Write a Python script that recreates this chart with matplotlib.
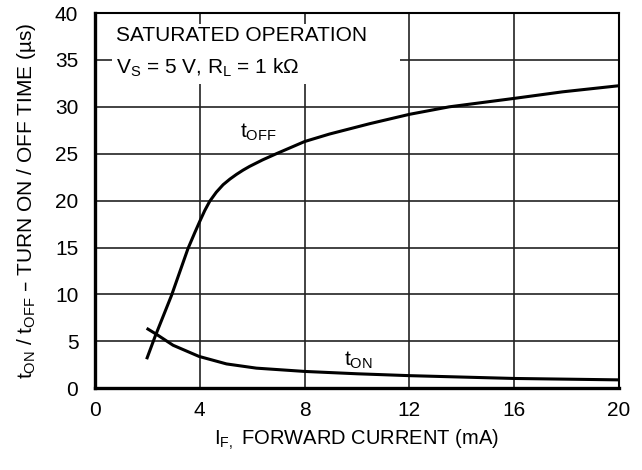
import matplotlib.pyplot as plt
from matplotlib.patches import Rectangle

plt.rcParams['font.family'] = ['Liberation Sans', 'DejaVu Sans']
plt.rcParams['mathtext.default'] = 'regular'

# t_OFF curve (mA, us)
i_off = [1.97, 2.29, 2.92, 3.55, 3.81, 4.0, 4.19, 4.38, 4.63, 4.89, 5.15, 5.4, 5.65, 5.9, 6.4,
         6.92, 8.0, 8.95, 10.48, 12.0, 13.52, 16.0, 17.85, 20.0]
t_off = [3.1, 5.5, 9.9, 14.9, 16.6, 17.8, 18.95, 19.94, 20.9, 21.7, 22.3, 22.8, 23.25, 23.65, 24.35,
         25.0, 26.3, 27.1, 28.2, 29.2, 30.0, 30.9, 31.6, 32.25]

# t_ON curve
i_on = [1.97, 2.35, 2.98, 3.97, 5.02, 6.16, 8.0, 10.0, 12.0, 16.0, 20.0]
t_on = [6.4, 5.75, 4.59, 3.4, 2.6, 2.15, 1.8, 1.55, 1.35, 1.05, 0.9]

xticks = [0, 4, 8, 12, 16, 20]
yticks = [0, 5, 10, 15, 20, 25, 30, 35, 40]

fs = 15

fig = plt.figure(figsize=(6.42, 4.70), dpi=100)
ax = fig.add_axes([0.148, 0.1738, 0.816, 0.7985])

ax.plot(i_off, t_off, color='black', lw=2.2, zorder=5, solid_capstyle='butt')
ax.plot(i_on, t_on, color='black', lw=2.2, zorder=5, solid_capstyle='butt')

ax.set_xlim(0, 20)
ax.set_ylim(0, 40)
ax.set_xticks(xticks)
ax.set_yticks(yticks)
ax.tick_params(length=0, labelsize=fs)
ax.tick_params(axis='y', pad=12)
ax.tick_params(axis='x', pad=9)
ax.grid(True, color='#222222', lw=1.2)
ax.set_axisbelow(True)
for s in ['left', 'bottom']:
    ax.spines[s].set_linewidth(2.4)
for s in ['top', 'right']:
    ax.spines[s].set_linewidth(1.5)

ax.set_xlabel('I$_{F,}$ FORWARD CURRENT (mA)', fontsize=14.5, labelpad=6)
ax.set_ylabel('t$_{ON}$ / t$_{OFF}$ \u2013 TURN ON / OFF TIME (\u00b5s)', fontsize=fs, labelpad=12)

# white patch behind the condition text
ax.add_patch(Rectangle((0.65, 32.4), 11.0, 6.4, facecolor='white', edgecolor='none', zorder=1))
ax.text(0.8, 37.0, 'SATURATED OPERATION', fontsize=fs, va='baseline', ha='left', zorder=4)
ax.text(0.8, 33.5, 'V$_S$ = 5 V, R$_L$ = 1 k\u03a9', fontsize=fs, va='baseline', ha='left', zorder=4)

ax.text(5.52, 26.7, 't$_{OFF}$', fontsize=fs, va='baseline', zorder=6)
ax.text(9.52, 2.45, 't$_{ON}$', fontsize=fs, va='baseline', zorder=6)

fig.savefig('out.png', dpi=100)
